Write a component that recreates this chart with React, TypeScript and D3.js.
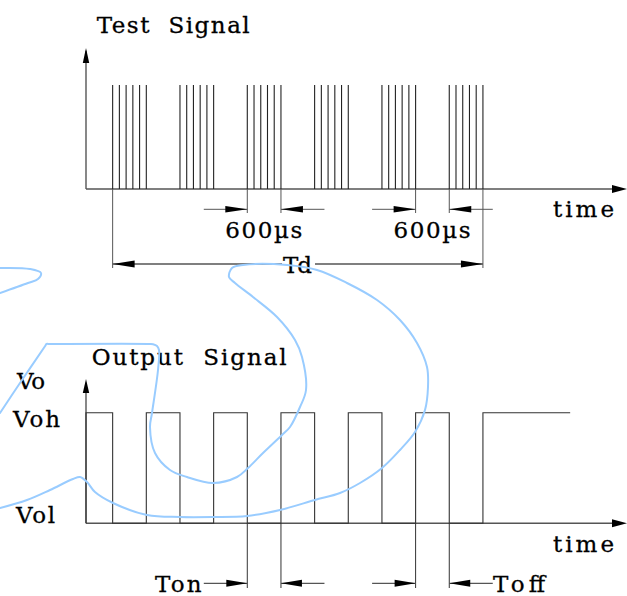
import React from 'react';
import * as d3 from 'd3';

// ---- data (time in µs) ----
const burstStarts = [475, 1675, 2875, 4075, 5275, 6475];
const pulseOffsets = [0, 120, 240, 360, 480, 600];
const outputHigh: [number, number][] = [
  [0, 475], [1075, 1675], [2275, 2875], [3475, 4075], [4675, 5275], [5875, 6475], [7075, 8630],
];
const testDims: [number, number][] = [[2875, 3475], [5875, 6475]];
const testDimLabels = ['600µs', '600µs'];
const tdSpan: [number, number] = [475, 7075];
const outDims: [number, number][] = [[2875, 3475], [5875, 6475]];
const outDimLabels = ['Ton', 'Toff'];
const levelLabels = ['Vol', 'Voh'];

// freehand annotation stroke (page units)
const scribbleA: [number, number][] = [[0, 268], [30, 269], [41, 273], [38, 279], [28, 283], [0, 293]];
const scribbleB: [number, number][] = [
  [0, 508], [27, 500], [50, 490], [73, 479], [80, 477], [87, 482], [95, 492], [113, 503], [147, 515],
  [180, 517], [213, 517], [247, 516], [280, 510], [315, 500], [340, 493], [360, 483], [382, 468],
  [400, 450], [415, 432], [425, 410], [428, 387], [427, 367], [417, 343], [400, 320], [377, 300],
  [347, 283], [317, 270], [287, 265], [243, 265], [232, 268], [229, 277], [235, 283], [253, 297],
  [277, 317], [295, 340], [302, 357], [306, 390], [300, 407], [290, 427], [282, 435], [263, 453],
  [248, 468], [237, 477], [213, 483], [187, 477], [170, 470], [155, 453], [150, 427], [152, 413],
  [158, 370], [159, 350], [157, 346], [153, 344.3], [150, 344], [50, 344], [46.5, 344], [45.5, 345.5],
  [22, 380], [0, 413],
];

const FONT = '"DejaVu Serif", serif';
const AX = '#555';

function arrow(tx: number, ty: number, dir: 'l' | 'r' | 'u', len: number, half: number) {
  if (dir === 'r') return `${tx},${ty} ${tx - len},${ty - half} ${tx - len},${ty + half}`;
  if (dir === 'l') return `${tx},${ty} ${tx + len},${ty - half} ${tx + len},${ty + half}`;
  return `${tx},${ty} ${tx - half},${ty + len} ${tx + half},${ty + len}`;
}

function Label(p: { x: number; y: number; w: number; t: string; size?: number }) {
  return (
    <text x={p.x} y={p.y} textLength={p.w} lengthAdjust="spacing" fontFamily={FONT}
      fontSize={p.size ?? 23} fill="#000" stroke="#000" strokeWidth={0.3}
      style={{ whiteSpace: 'pre' }}>{p.t}</text>
  );
}

export default function App() {
  const W = 627, H = 596;
  const x = d3.scaleLinear().domain([0, 9643]).range([86, 627]);
  const yT = d3.scaleLinear().domain([0, 1]).range([189, 85]);
  const yB = d3.scaleLinear().domain([0, 1]).range([523.3, 412.7]);

  const outPts: [number, number][] = [];
  outputHigh.forEach(([a, b], i) => {
    outPts.push([a, 0], [a, 1], [b, 1]);
    if (i < outputHigh.length - 1) outPts.push([b, 0]);
  });
  const outLine = d3.line<[number, number]>().x(d => x(d[0])).y(d => yB(d[1]));
  const scrib = d3.line<[number, number]>().x(d => d[0]).y(d => d[1]).curve(d3.curveCatmullRom.alpha(0.5));

  const x0 = x(0), xEnd = x(9643);
  const dimY = 209.3, tdY = 264, outDimY = 583.3;
  const ext = 43.5;

  return (
    <svg width={W} height={H} style={{ position: 'absolute', left: 0, top: 0, background: '#fff' }}>
      <rect x={0} y={0} width={W} height={H} fill="#fff" />
      {/* ---------- Test signal ---------- */}
      <Label x={96.7} y={33} w={153} t={'Test  Signal'} />
      <line x1={x0} y1={yT(0)} x2={x0} y2={yT(1.33)} stroke={AX} strokeWidth={1.4} />
      <polygon points={arrow(x0, 48, 'u', 15, 3.2)} fill="#000" />
      <line x1={x0} y1={yT(0)} x2={xEnd - 10} y2={yT(0)} stroke={AX} strokeWidth={1.6} />
      <polygon points={arrow(xEnd, yT(0), 'r', 15, 4)} fill="#000" />
      {burstStarts.map(s => pulseOffsets.map(o => (
        <line key={`${s}-${o}`} x1={x(s + o)} x2={x(s + o)} y1={yT(0)} y2={yT(1)} stroke="#222" strokeWidth={1.1} />
      )))}
      <Label x={553} y={217} w={61} t="time" />

      {/* 600µs dims */}
      {testDims.map(([a, b], i) => (
        <g key={i}>
          <line x1={x(a)} x2={x(a)} y1={yT(0)} y2={213} stroke={AX} strokeWidth={1} />
          <line x1={x(b)} x2={x(b)} y1={yT(0)} y2={213} stroke={AX} strokeWidth={1} />
          <line x1={x(a) - ext} x2={x(a)} y1={dimY} y2={dimY} stroke={AX} strokeWidth={1} />
          <line x1={x(b)} x2={x(b) + ext} y1={dimY} y2={dimY} stroke={AX} strokeWidth={1} />
          <polygon points={arrow(x(a), dimY, 'r', 22, 3.3)} fill="#000" />
          <polygon points={arrow(x(b), dimY, 'l', 22, 3.3)} fill="#000" />
          <Label x={x(a) - 22} y={238.3} w={77} t={testDimLabels[i]} />
        </g>
      ))}

      {/* Td */}
      <line x1={x(tdSpan[0])} x2={x(tdSpan[0])} y1={yT(0)} y2={268} stroke={AX} strokeWidth={1} />
      <line x1={x(tdSpan[1])} x2={x(tdSpan[1])} y1={yT(0)} y2={268} stroke={AX} strokeWidth={1} />
      <line x1={x(tdSpan[0])} x2={x(tdSpan[1])} y1={tdY} y2={tdY} stroke={AX} strokeWidth={1.3} />
      <polygon points={arrow(x(tdSpan[0]), tdY, 'l', 22, 3.5)} fill="#000" />
      <polygon points={arrow(x(tdSpan[1]), tdY, 'r', 22, 3.5)} fill="#000" />
      <rect x={282} y={254} width={33} height={20} fill="#fff" />
      <Label x={283} y={272.5} w={29} t="Td" />

      {/* ---------- Output signal ---------- */}
      <Label x={91.7} y={365} w={195} t={'Output  Signal'} />
      <Label x={17} y={389} w={28} t="Vo" />
      <Label x={13} y={427} w={47} t={levelLabels[1]} />
      <Label x={16} y={523} w={39} t={levelLabels[0]} />
      <line x1={x0} y1={yB(0)} x2={x0} y2={yB(1.2)} stroke={AX} strokeWidth={1.4} />
      <polygon points={arrow(x0, 379, 'u', 14, 3.2)} fill="#000" />
      <line x1={x0} y1={yB(0)} x2={xEnd - 10} y2={yB(0)} stroke={AX} strokeWidth={1.6} />
      <polygon points={arrow(xEnd, yB(0), 'r', 15, 4)} fill="#000" />
      <path d={outLine(outPts) ?? ''} fill="none" stroke="#333" strokeWidth={1.1} />
      <Label x={553} y={551.7} w={61} t="time" />

      {outDims.map(([a, b], i) => (
        <g key={i}>
          <line x1={x(a)} x2={x(a)} y1={yB(0)} y2={588} stroke="#333" strokeWidth={1} />
          <line x1={x(b)} x2={x(b)} y1={yB(0)} y2={588} stroke="#333" strokeWidth={1} />
          <line x1={x(a) - ext} x2={x(a)} y1={outDimY} y2={outDimY} stroke={AX} strokeWidth={1.2} />
          <line x1={x(b)} x2={x(b) + ext} y1={outDimY} y2={outDimY} stroke={AX} strokeWidth={1.2} />
          <polygon points={arrow(x(a), outDimY, 'r', 21, 3.5)} fill="#000" />
          <polygon points={arrow(x(b), outDimY, 'l', 21, 3.5)} fill="#000" />
        </g>
      ))}
      <Label x={155} y={592} w={46.7} t={outDimLabels[0]} />
      <Label x={493} y={592} w={52} t={outDimLabels[1]} />

      {/* freehand annotation strokes */}
      <path d={scrib(scribbleA) ?? ''} fill="none" stroke="#99CCFF" strokeWidth={2} strokeLinecap="round" strokeLinejoin="round" />
      <path d={scrib(scribbleB) ?? ''} fill="none" stroke="#99CCFF" strokeWidth={2} strokeLinecap="round" strokeLinejoin="round" />
    </svg>
  );
}
